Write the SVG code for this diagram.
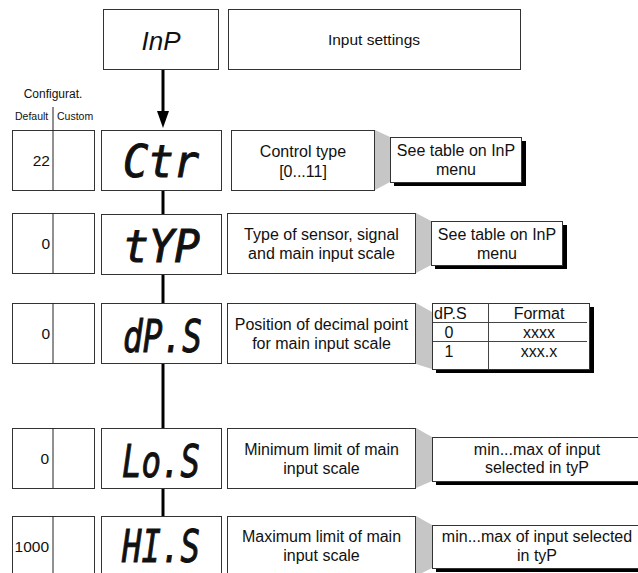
<svg xmlns="http://www.w3.org/2000/svg" width="638" height="573" viewBox="0 0 638 573">
<style>
  .box{fill:#fff;stroke:#333;stroke-width:1}
  .cfg{fill:#fff;stroke:#333;stroke-width:1}
  .div{stroke:#222;stroke-width:1}
  .t{font-family:"Liberation Sans",Arial,sans-serif;font-size:16px;fill:#111}
  .tc{text-anchor:middle}
  .val{font-family:"Liberation Sans",Arial,sans-serif;font-size:15.5px;fill:#111;text-anchor:end}
  .disp{font-family:"DejaVu Sans Mono",monospace;font-size:44px;font-weight:normal;font-style:italic;fill:#111;stroke:#111;stroke-width:1}
  .gray{fill:#c6c6c6}
  .shadow{fill:#000}
  .conn{stroke:#000;stroke-width:3;fill:none}
  .tl{stroke:#444;stroke-width:1}
</style>

<g id="header">
  <text class="t tc" x="53" y="98" style="font-size:12px">Configurat.</text>
  <text class="t" x="15" y="120" style="font-size:10.5px">Default</text>
  <text class="t" x="57" y="120" style="font-size:10.5px">Custom</text>
  <line class="div" x1="53" y1="107" x2="53" y2="130"/>
</g>

<g id="connectors">
  <line class="conn" x1="163" y1="69" x2="163" y2="113"/>
  <polygon points="157,111 169,111 163,128" fill="#000"/>
  <line class="conn" x1="163" y1="190" x2="163" y2="214"/>
  <line class="conn" x1="163" y1="274" x2="163" y2="303"/>
  <line class="conn" x1="163" y1="364" x2="163" y2="428"/>
  <line class="conn" x1="163" y1="488" x2="163" y2="516"/>
</g>

<g id="node-inp">
  <rect class="box" x="103.5" y="9.5" width="115" height="60"/>
  <text class="t tc" x="161" y="50" style="font-size:26px;font-style:italic">InP</text>
  <rect class="box" x="228.5" y="9.5" width="292" height="60"/>
  <text class="t tc" x="374" y="45" style="font-size:15.5px">Input settings</text>
</g>

<g id="node-ctr">
  <rect class="cfg" x="12.5" y="130.5" width="82" height="60"/>
  <line class="div" x1="53" y1="130" x2="53" y2="190"/>
  <text class="val" x="50" y="166">22</text>
  <rect class="box" x="101.5" y="130.5" width="120" height="60"/>
  <text class="disp" x="123" y="177" textLength="76" lengthAdjust="spacingAndGlyphs">Ctr</text>
  <rect class="box" x="231.5" y="130.5" width="143" height="60"/>
  <text class="t tc" x="303" y="157">Control type</text>
  <text class="t tc" x="303" y="177">[0...11]</text>
  <polygon class="gray" points="375,130 390,137 390,182 375,190"/>
  <rect class="shadow" x="394" y="141" width="132" height="45"/>
  <rect class="box" x="390.5" y="137.5" width="131" height="45"/>
  <text class="t tc" x="456" y="156">See table on InP</text>
  <text class="t tc" x="456" y="175">menu</text>
</g>

<g id="node-typ">
  <rect class="cfg" x="12.5" y="213.5" width="82" height="60"/>
  <line class="div" x1="53" y1="213" x2="53" y2="273"/>
  <text class="val" x="50" y="249">0</text>
  <rect class="box" x="101.5" y="214.5" width="120" height="60"/>
  <text class="disp" x="123" y="261.5" textLength="77" lengthAdjust="spacingAndGlyphs">tYP</text>
  <rect class="box" x="227.5" y="213.5" width="188" height="60"/>
  <text class="t tc" x="321.5" y="240">Type of sensor, signal</text>
  <text class="t tc" x="321.5" y="259">and main input scale</text>
  <polygon class="gray" points="416,213 431,221 431,265 416,273"/>
  <rect class="shadow" x="435" y="225" width="132" height="44"/>
  <rect class="box" x="431.5" y="221.5" width="131" height="44"/>
  <text class="t tc" x="497" y="240">See table on InP</text>
  <text class="t tc" x="497" y="259">menu</text>
</g>

<g id="node-dps">
  <rect class="cfg" x="12.5" y="303.5" width="82" height="60"/>
  <line class="div" x1="53" y1="303" x2="53" y2="363"/>
  <text class="val" x="50" y="339">0</text>
  <rect class="box" x="101.5" y="303.5" width="120" height="60"/>
  <text class="disp" x="123" y="351.5" textLength="79" lengthAdjust="spacingAndGlyphs">dP.S</text>
  <rect class="box" x="227.5" y="303.5" width="188" height="60"/>
  <text class="t tc" x="321.5" y="330">Position of decimal point</text>
  <text class="t tc" x="321.5" y="349">for main input scale</text>
  <polygon class="gray" points="416,303 432,312 432,369 416,364"/>
  <rect class="shadow" x="436" y="307" width="158" height="66"/>
  <rect class="box" x="432.5" y="303.5" width="157" height="66"/>
  <line class="tl" x1="433" y1="322.5" x2="587" y2="322.5"/>
  <line class="tl" x1="433" y1="341.5" x2="587" y2="341.5"/>
  <line class="tl" x1="488.5" y1="303" x2="488.5" y2="369"/>
  <text class="t" x="434" y="319">dP.S</text>
  <text class="t tc" x="539" y="319">Format</text>
  <text class="t tc" x="449" y="338">0</text>
  <text class="t tc" x="539" y="338">xxxx</text>
  <text class="t tc" x="449" y="357">1</text>
  <text class="t tc" x="539" y="357">xxx.x</text>
</g>

<g id="node-los">
  <rect class="cfg" x="12.5" y="428.5" width="82" height="60"/>
  <line class="div" x1="53" y1="428" x2="53" y2="488"/>
  <text class="val" x="49" y="464">0</text>
  <rect class="box" x="101.5" y="428.5" width="120" height="60"/>
  <text class="disp" x="122" y="476.5" textLength="78" lengthAdjust="spacingAndGlyphs">Lo.S</text>
  <rect class="box" x="227.5" y="428.5" width="188" height="60"/>
  <text class="t tc" x="321.5" y="455">Minimum limit of main</text>
  <text class="t tc" x="321.5" y="474">input scale</text>
  <polygon class="gray" points="416,428 432,437 432,481 416,488"/>
  <rect class="shadow" x="436" y="441" width="210" height="44"/>
  <rect class="box" x="432.5" y="437.5" width="210" height="44"/>
  <text class="t tc" x="537" y="455">min...max of input</text>
  <text class="t tc" x="537" y="473">selected in tyP</text>
</g>

<g id="node-his">
  <rect class="cfg" x="12.5" y="516.5" width="82" height="60"/>
  <line class="div" x1="53" y1="516" x2="53" y2="576"/>
  <text class="val" x="49" y="552">1000</text>
  <rect class="box" x="101.5" y="516.5" width="120" height="60"/>
  <text class="disp" x="122" y="562" textLength="78" lengthAdjust="spacingAndGlyphs">HI.S</text>
  <rect class="box" x="227.5" y="516.5" width="188" height="60"/>
  <text class="t tc" x="321.5" y="542">Maximum limit of main</text>
  <text class="t tc" x="321.5" y="561">input scale</text>
  <polygon class="gray" points="416,516 432,525 432,568 416,576"/>
  <rect class="shadow" x="436" y="529" width="210" height="43"/>
  <rect class="box" x="432.5" y="525.5" width="210" height="43"/>
  <text class="t tc" x="537" y="542">min...max of input selected</text>
  <text class="t tc" x="537" y="561">in tyP</text>
</g>
</svg>
